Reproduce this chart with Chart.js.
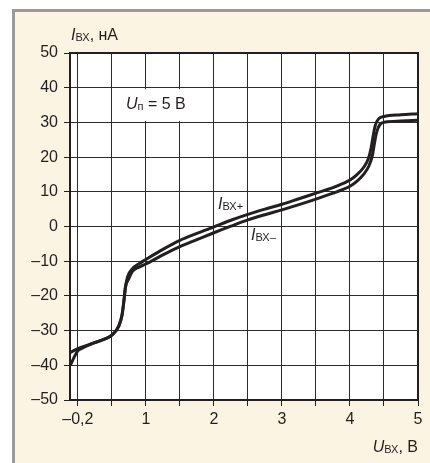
<!DOCTYPE html>
<html>
<head>
<meta charset="utf-8">
<script src="https://cdn.jsdelivr.net/npm/chart.js@4/dist/chart.umd.min.js"></script>
<style>
html,body{margin:0;padding:0;background:#fff;}
canvas{display:block;}
</style>
</head>
<body>
<canvas id="c" width="430" height="463"></canvas>
<script>
// ---- data ----
const xPlus  = [-0.11, 0.0, 0.2, 0.4, 0.5, 0.6, 0.65, 0.68, 0.7, 0.73, 0.8, 0.9, 1.0, 1.25, 1.5, 1.75, 2.0, 2.25, 2.5, 2.75, 3.0, 3.25, 3.5, 3.75, 3.9, 4.0, 4.1, 4.2, 4.27, 4.31, 4.34, 4.37, 4.42, 4.5, 4.75, 5.0];
const yPlus  = [-36.3, -35.2, -33.8, -32.4, -31.3, -28.8, -25.5, -21.0, -17.5, -14.5, -12.2, -10.7, -9.5, -6.6, -4.0, -2.0, -0.1, 1.8, 3.5, 5.0, 6.4, 8.0, 9.6, 11.2, 12.4, 13.4, 14.9, 17.0, 19.5, 22.5, 26.0, 29.0, 31.0, 31.7, 32.2, 32.5];
const xMinus = [-0.11, -0.05, 0.0, 0.05, 0.2, 0.4, 0.5, 0.6, 0.65, 0.68, 0.7, 0.75, 0.8, 0.9, 1.0, 1.25, 1.5, 1.75, 2.0, 2.25, 2.5, 2.75, 3.0, 3.25, 3.5, 3.75, 3.9, 4.0, 4.1, 4.2, 4.28, 4.33, 4.36, 4.39, 4.44, 4.52, 4.75, 5.0];
const yMinus = [-40.0, -37.5, -35.8, -35.2, -33.8, -32.4, -31.3, -28.8, -25.5, -21.0, -17.5, -15.0, -13.0, -11.7, -10.8, -8.2, -5.8, -3.8, -1.8, 0.1, 1.9, 3.4, 4.8, 6.3, 7.9, 9.6, 10.7, 11.6, 13.0, 15.0, 17.5, 20.5, 24.0, 27.0, 29.4, 30.1, 30.4, 30.6];
const xTickValues = [0, 0.5, 1, 1.5, 2, 2.5, 3, 3.5, 4, 4.5, 5];
const xTickLabels = ["\u20130,2", "", "1", "", "2", "", "3", "", "4", "", "5"];
const yTickValues = [-50, -40, -30, -20, -10, 0, 10, 20, 30, 40, 50];

const INK = '#231f20';
const FONT = '"Liberation Sans", Arial, sans-serif';

function toPts(xs, ys){ return xs.map((x,i)=>({x:x, y:ys[i]})); }

function drawRich(ctx, x, y, parts, align){
  let total = 0;
  parts.forEach(p=>{ ctx.font = (p.italic?'italic ':'') + p.size + 'px ' + FONT; p.w = ctx.measureText(p.t).width; total += p.w; });
  let cx = align === 'right' ? x - total : x;
  ctx.textBaseline = 'alphabetic';
  ctx.textAlign = 'left';
  ctx.fillStyle = INK;
  parts.forEach(p=>{ ctx.font = (p.italic?'italic ':'') + p.size + 'px ' + FONT; ctx.fillText(p.t, cx, y + (p.dy||0)); cx += p.w; });
}

const framePlugin = {
  id: 'frame',
  beforeDraw(chart){
    const ctx = chart.ctx, a = chart.chartArea;
    ctx.save();
    ctx.fillStyle = '#ffffff';
    ctx.fillRect(0,0,chart.width,chart.height);
    ctx.fillStyle = '#fcf4e2';
    ctx.fillRect(12,9,chart.width-12,chart.height-9);
    ctx.fillStyle = '#9a9a9a';
    ctx.fillRect(12,9,chart.width-12,3);
    ctx.fillRect(12,9,3,chart.height-9);
    ctx.fillStyle = '#ffffff';
    ctx.fillRect(a.left,a.top,a.right-a.left,a.bottom-a.top);
    ctx.restore();
  },
  beforeDatasetsDraw(chart){
    const ctx = chart.ctx, xs = chart.scales.x, ys = chart.scales.y;
    ctx.save();
    ctx.fillStyle = '#ffffff';
    const l = xs.getPixelForValue(0.5) + 1.5, r = xs.getPixelForValue(2) - 1.5;
    const t = ys.getPixelForValue(40) + 1.5, b = ys.getPixelForValue(30) - 1.5;
    ctx.fillRect(l, t, r - l, b - t);
    ctx.restore();
  },
  afterDraw(chart){
    const ctx = chart.ctx, a = chart.chartArea;
    ctx.save();
    ctx.strokeStyle = INK;
    ctx.lineWidth = 2;
    ctx.strokeRect(a.left, a.top, a.right-a.left, a.bottom-a.top);
    drawRich(ctx, 71, 40, [{t:'I',italic:true,size:16},{t:'ВХ',size:11,dy:1},{t:', нА',size:16}]);
    drawRich(ctx, 418, 452, [{t:'U',italic:true,size:16},{t:'ВХ',size:11,dy:1},{t:', В',size:16}], 'right');
    drawRich(ctx, 126, 109, [{t:'U',italic:true,size:16},{t:'п',size:11,dy:1},{t:' = 5 В',size:16}]);
    drawRich(ctx, 218, 209, [{t:'I',italic:true,size:16},{t:'ВХ+',size:11,dy:1}]);
    drawRich(ctx, 251, 240, [{t:'I',italic:true,size:16},{t:'ВХ\u2013',size:11,dy:1}]);
    ctx.restore();
  }
};

new Chart(document.getElementById('c'), {
  type: 'line',
  data: {
    datasets: [
      { label: 'Iвх+', data: toPts(xPlus, yPlus), borderColor: INK, borderWidth: 3, pointRadius: 0, cubicInterpolationMode: 'monotone', fill: false },
      { label: 'Iвх-', data: toPts(xMinus, yMinus), borderColor: INK, borderWidth: 3, pointRadius: 0, cubicInterpolationMode: 'monotone', fill: false }
    ]
  },
  options: {
    responsive: false,
    animation: false,
    devicePixelRatio: 1,
    layout: { padding: { top: 53, right: 12, left: 0, bottom: 0 } },
    plugins: { legend: { display: false }, tooltip: { enabled: false } },
    scales: {
      x: {
        type: 'linear', min: -0.115, max: 5,
        afterBuildTicks(scale){ scale.ticks = xTickValues.map(v=>({value:v})); },
        afterFit(scale){ scale.height = 63; },
        ticks: { autoSkip: false, maxRotation: 0, padding: 4, color: INK, font: { family: FONT, size: 16 },
          callback: (v, i) => xTickLabels[i] },
        grid: { color: '#2b2b2b', lineWidth: 1, tickLength: 6, tickColor: INK, drawOnChartArea: true },
        border: { display: false }
      },
      y: {
        type: 'linear', min: -50, max: 50,
        afterBuildTicks(scale){ scale.ticks = yTickValues.map(v=>({value:v})); },
        afterFit(scale){ scale.width = 70; },
        ticks: { padding: 6, color: INK, font: { family: FONT, size: 16 },
          callback: v => String(v).replace('-', '\u2013') },
        grid: { color: '#2b2b2b', lineWidth: 1, tickLength: 6, tickColor: INK, drawOnChartArea: true },
        border: { display: false }
      }
    }
  },
  plugins: [framePlugin]
});
</script>
</body>
</html>
